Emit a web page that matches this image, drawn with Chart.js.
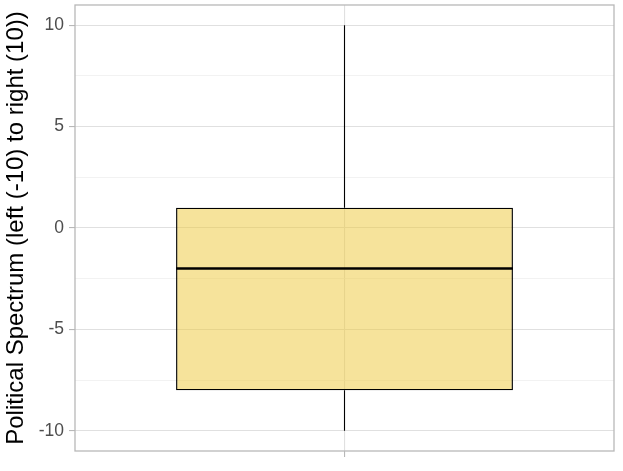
<!DOCTYPE html>
<html>
<head>
<meta charset="utf-8">
<script src="https://cdn.jsdelivr.net/npm/chart.js@4/dist/chart.umd.min.js"></script>
<style>
  html, body { margin: 0; padding: 0; background: #fff; }
  #wrap { width: 623px; height: 471px; position: relative; }
</style>
</head>
<body>
<div id="wrap"><canvas id="myChart"></canvas></div>
<script>
// box plot values
var categories = [''];
var lowerWhisker = [-10];
var lowerQuartile = [-8];
var medians = [-2];
var upperQuartile = [1];
var upperWhisker = [10];
var yMajorTicks = [-10, -5, 0, 5, 10];

var boxFill = 'rgba(238, 200, 55, 0.5)';
var majorGrid = '#e0e0e0';
var minorGrid = '#efefef';
var frameGrey = '#b8b8b8';

function isMajor(v) {
    return yMajorTicks.indexOf(v) !== -1;
}

// whiskers, median and panel frame, drawn with the chart scales
var boxExtras = {
    id: 'boxExtras',
    beforeDatasetsDraw: function (chart) {
        var ctx = chart.ctx;
        var y = chart.scales.y;
        var meta = chart.getDatasetMeta(0);
        ctx.save();
        ctx.strokeStyle = '#000';
        ctx.lineWidth = 1.1;
        meta.data.forEach(function (bar, i) {
            ctx.beginPath();
            ctx.moveTo(bar.x, y.getPixelForValue(upperQuartile[i]));
            ctx.lineTo(bar.x, y.getPixelForValue(upperWhisker[i]));
            ctx.moveTo(bar.x, y.getPixelForValue(lowerQuartile[i]));
            ctx.lineTo(bar.x, y.getPixelForValue(lowerWhisker[i]));
            ctx.stroke();
        });
        ctx.restore();
    },
    afterDatasetsDraw: function (chart) {
        var ctx = chart.ctx;
        var y = chart.scales.y;
        var meta = chart.getDatasetMeta(0);
        ctx.save();
        ctx.strokeStyle = '#000';
        ctx.lineWidth = 2.6;
        meta.data.forEach(function (bar, i) {
            var py = y.getPixelForValue(medians[i]);
            ctx.beginPath();
            ctx.moveTo(bar.x - bar.width / 2, py);
            ctx.lineTo(bar.x + bar.width / 2, py);
            ctx.stroke();
        });
        var a = chart.chartArea;
        ctx.strokeStyle = frameGrey;
        ctx.lineWidth = 1.3;
        ctx.strokeRect(a.left, a.top, a.right - a.left, a.bottom - a.top);
        ctx.restore();
    }
};

var ctx = document.getElementById('myChart').getContext('2d');
var myChart = new Chart(ctx, {
    type: 'bar',
    data: {
        labels: categories,
        datasets: [{
            data: lowerQuartile.map(function (q1, i) { return [q1, upperQuartile[i]]; }),
            backgroundColor: boxFill,
            borderColor: '#000',
            borderWidth: 1.3,
            borderSkipped: false,
            barPercentage: 0.625,
            categoryPercentage: 1
        }]
    },
    options: {
        responsive: true,
        maintainAspectRatio: false,
        animation: false,
        layout: { padding: { left: 0, top: 5, right: 9, bottom: 0 } },
        plugins: {
            legend: { display: false },
            tooltip: { enabled: false }
        },
        scales: {
            x: {
                offset: true,
                grid: {
                    offset: false,
                    color: majorGrid,
                    lineWidth: 1.1,
                    tickColor: frameGrey,
                    tickLength: 6
                },
                border: { display: false },
                ticks: { display: true, font: { size: 1 } },
                afterFit: function (scale) {
                    scale.height = 20;
                    scale.paddingLeft = 0;
                    scale.paddingRight = 0;
                }
            },
            y: {
                min: -11,
                max: 11,
                afterBuildTicks: function (scale) {
                    scale.ticks = scale.ticks.filter(function (t) { return t.value % 2.5 === 0; });
                },
                ticks: {
                    stepSize: 2.5,
                    padding: 5,
                    color: '#4d4d4d',
                    font: { family: 'Liberation Sans, Arial, sans-serif', size: 17.5 },
                    callback: function (v) { return isMajor(v) ? String(v) : ''; }
                },
                grid: {
                    color: function (c) { return isMajor(c.tick.value) ? majorGrid : minorGrid; },
                    lineWidth: function (c) { return isMajor(c.tick.value) ? 1.1 : 0.8; },
                    tickColor: function (c) { return isMajor(c.tick.value) ? frameGrey : 'rgba(0,0,0,0)'; },
                    tickLength: 6
                },
                border: { display: false },
                title: {
                    display: true,
                    text: 'Political Spectrum (left (-10) to right (10))',
                    color: '#000',
                    font: { family: 'Liberation Sans, Arial, sans-serif', size: 24 },
                    padding: { top: 2, bottom: 2 }
                },
                afterFit: function (scale) {
                    scale.width = 75;
                    scale.paddingTop = 0;
                    scale.paddingBottom = 0;
                }
            }
        }
    },
    plugins: [boxExtras]
});
</script>
</body>
</html>
